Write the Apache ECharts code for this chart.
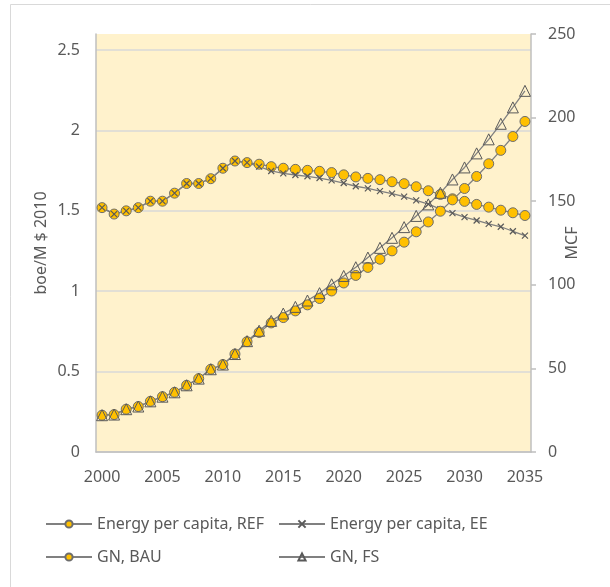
<!DOCTYPE html>
<html>
<head>
<meta charset="utf-8">
<script src="https://cdn.jsdelivr.net/npm/echarts@6/dist/echarts.min.js"></script>
<style>
  html, body { margin: 0; padding: 0; background: #ffffff; }
  #chart { width: 610px; height: 587px; }
</style>
</head>
<body>
<div id="chart"></div>
<script>
// Years on the category axis
const years = ['2000','2001','2002','2003','2004','2005','2006','2007','2008','2009',
  '2010','2011','2012','2013','2014','2015','2016','2017','2018','2019',
  '2020','2021','2022','2023','2024','2025','2026','2027','2028','2029',
  '2030','2031','2032','2033','2034','2035'];

// Energy per capita (boe/M $ 2010), left axis
const energyREF = [1.52,1.48,1.50,1.52,1.56,1.56,1.61,1.67,1.67,1.70,
  1.765,1.81,1.80,1.79,1.775,1.765,1.758,1.752,1.746,1.738,
  1.724,1.711,1.702,1.694,1.681,1.669,1.650,1.625,1.602,1.575,
  1.559,1.540,1.523,1.504,1.488,1.471];
const energyEE = [1.52,1.48,1.50,1.52,1.56,1.56,1.61,1.67,1.67,1.70,
  1.765,1.81,1.80,1.775,1.748,1.733,1.723,1.715,1.704,1.690,
  1.673,1.653,1.640,1.623,1.607,1.588,1.565,1.542,1.511,1.486,
  1.461,1.440,1.419,1.401,1.373,1.346];

// Natural gas (MCF), right axis
const gnBAU = [22.0,22.4,25.6,27.2,30.3,33.1,35.7,39.9,43.9,49.5,
  52.3,58.6,66.0,71.5,77.2,80.4,84.4,88.0,91.8,96.3,
  101.1,105.6,110.4,115.3,120.3,125.5,131.7,137.6,144.0,150.8,
  157.6,164.8,172.4,180.4,188.7,197.7];
const gnFS = [22.0,22.4,25.6,27.2,30.3,33.1,35.7,39.9,43.9,49.5,
  52.3,58.6,66.3,72.5,78.4,82.8,86.8,90.6,95.0,100.3,
  105.3,110.5,116.3,122.1,128.1,134.5,141.2,148.1,155.0,163.0,
  170.2,178.6,187.0,196.3,206.1,216.0];

const FONT = '"Noto Sans", Lato, sans-serif';
const TXT = '#595959';
const LINE = '#808080';
const GOLD = '#FFC000';
const EDGE = '#6d6d6d';
const CROSS = 'path://M0,0L10,10M10,0L0,10';

const chart = echarts.init(document.getElementById('chart'), null, { renderer: 'canvas' });

const legendText = { fontFamily: FONT, fontSize: 16, color: TXT };

chart.setOption({
  animation: false,
  backgroundColor: '#ffffff',
  textStyle: { fontFamily: FONT, color: TXT },
  graphic: [{
    type: 'rect',
    shape: { x: 10.5, y: 4.5, width: 800, height: 800 },
    style: { fill: 'none', stroke: '#d9d9d9', lineWidth: 1 },
    silent: true, z: -10
  }],
  grid: {
    left: 96, right: 79, top: 34, bottom: 135,
    show: true, backgroundColor: '#FFF2CC', borderWidth: 0
  },
  legend: [{
    orient: 'vertical', left: 40, top: 511,
    itemWidth: 46, itemHeight: 9, itemGap: 17,
    textStyle: legendText,
    data: ['Energy per capita, REF', 'GN, BAU']
  }, {
    orient: 'vertical', left: 273, top: 511,
    itemWidth: 46, itemHeight: 9, itemGap: 17,
    textStyle: legendText,
    data: ['Energy per capita, EE', 'GN, FS']
  }],
  xAxis: {
    type: 'category', data: years, boundaryGap: true,
    axisLine: { lineStyle: { color: '#bfbfbf', width: 1.5 } },
    axisTick: { show: false },
    axisLabel: { interval: 4, margin: 17, fontSize: 16, color: TXT, fontFamily: FONT },
    splitLine: { show: false }
  },
  yAxis: [{
    type: 'value', min: 0, max: 2.6, interval: 0.5,
    name: 'boe/M $ 2010', nameLocation: 'middle', nameGap: 47, nameMoveOverlap: false,
    nameTextStyle: { fontSize: 16, color: TXT, fontFamily: FONT },
    axisLine: { show: true, lineStyle: { color: '#bfbfbf', width: 1.5 } },
    axisTick: { show: false },
    axisLabel: { margin: 16, fontSize: 16, color: TXT, fontFamily: FONT, showMaxLabel: false },
    splitLine: {
      show: true,
      lineStyle: {
        color: ['#d9d9d9','#d9d9d9','#d9d9d9','#d9d9d9','#d9d9d9','#d9d9d9','rgba(0,0,0,0)'],
        width: 1.5
      }
    }
  }, {
    type: 'value', min: 0, max: 250, interval: 50,
    name: 'MCF', nameLocation: 'middle', nameGap: 33, nameRotate: 90, nameMoveOverlap: false,
    nameTextStyle: { fontSize: 16, color: TXT, fontFamily: FONT },
    axisLine: { show: true, lineStyle: { color: '#bfbfbf', width: 1.5 } },
    axisTick: { show: true, inside: false, length: 5, lineStyle: { color: '#bfbfbf', width: 1.5 } },
    axisLabel: { margin: 17, fontSize: 16, color: TXT, fontFamily: FONT },
    splitLine: { show: false }
  }],
  series: [{
    name: 'Energy per capita, REF', type: 'line', yAxisIndex: 0, data: energyREF,
    symbol: 'circle', symbolSize: 10, showAllSymbol: true,
    lineStyle: { color: LINE, width: 1.3 },
    itemStyle: { color: GOLD, borderColor: EDGE, borderWidth: 1 }
  }, {
    name: 'Energy per capita, EE', type: 'line', yAxisIndex: 0, data: energyEE,
    symbol: CROSS, symbolSize: 6, showAllSymbol: true,
    lineStyle: { color: LINE, width: 1.3 },
    itemStyle: { color: 'rgba(0,0,0,0)', borderColor: '#595959', borderWidth: 1.2 }
  }, {
    name: 'GN, BAU', type: 'line', yAxisIndex: 1, data: gnBAU,
    symbol: 'circle', symbolSize: 10, showAllSymbol: true,
    lineStyle: { color: LINE, width: 1.3 },
    itemStyle: { color: GOLD, borderColor: EDGE, borderWidth: 1 }
  }, {
    name: 'GN, FS', type: 'line', yAxisIndex: 1, data: gnFS,
    symbol: 'triangle', symbolSize: 11, showAllSymbol: true,
    lineStyle: { color: LINE, width: 1.3 },
    itemStyle: { color: 'rgba(0,0,0,0)', borderColor: '#595959', borderWidth: 1 }
  }]
});
</script>
</body>
</html>
